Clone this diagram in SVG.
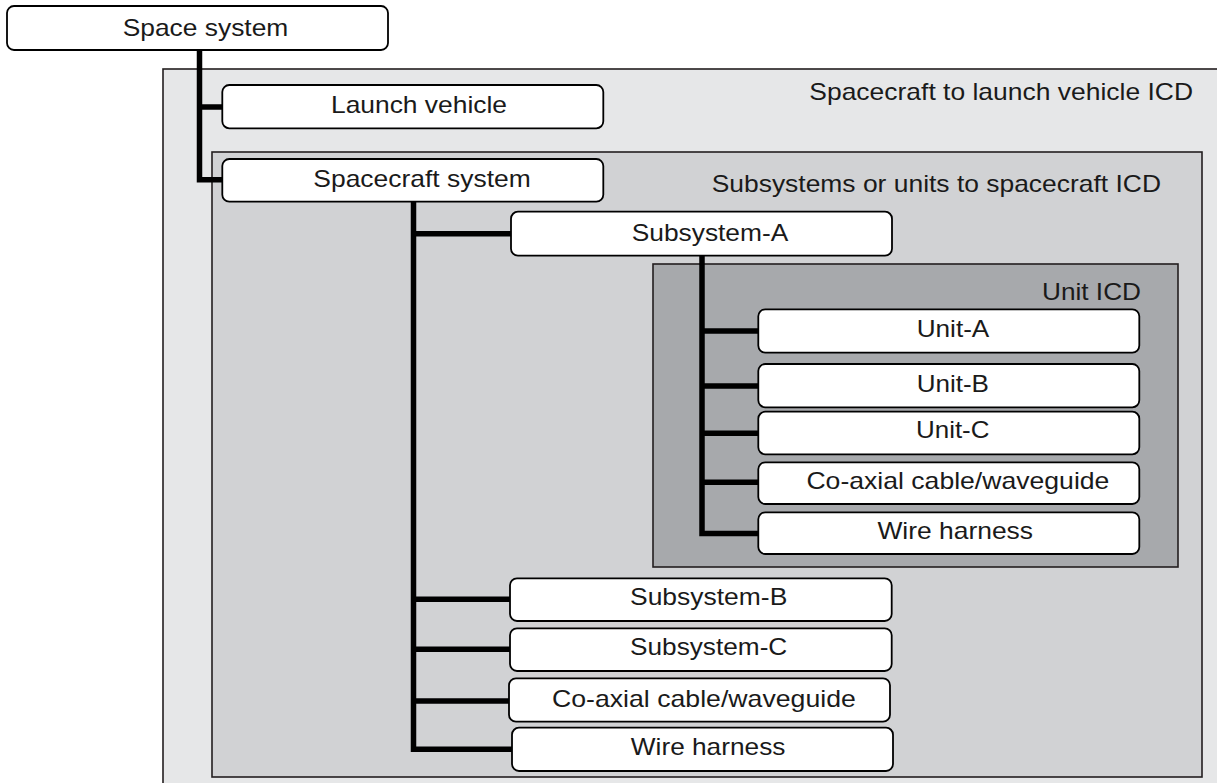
<svg xmlns="http://www.w3.org/2000/svg" width="1217" height="783" viewBox="0 0 1217 783">
<style>
.frame{stroke:#231f20;stroke-width:1.6}
.box{fill:#fff;stroke:#000;stroke-width:1.8}
.lbl{font-family:"Liberation Sans",Arial,sans-serif;font-size:24px;fill:#1a1a1a}
.conn{fill:none;stroke:#000;stroke-width:5.5;stroke-linejoin:miter;stroke-linecap:butt}
</style>
<rect width="1217" height="783" fill="#fff"/>
<g id="frame-sc-lv">
<rect class="frame" x="163" y="69" width="1080" height="740" fill="#e6e7e8"/>
<text class="lbl" x="809.3" y="100" textLength="383.7" lengthAdjust="spacingAndGlyphs">Spacecraft to launch vehicle ICD</text>
</g>
<g id="frame-sub">
<rect class="frame" x="212" y="152" width="990" height="625" fill="#d1d2d4"/>
<text class="lbl" x="711.7" y="191.5" textLength="449.3" lengthAdjust="spacingAndGlyphs">Subsystems or units to spacecraft ICD</text>
</g>
<g id="frame-unit">
<rect class="frame" x="653" y="264" width="525" height="303" fill="#a7a9ac"/>
<text class="lbl" x="1042" y="300" textLength="99" lengthAdjust="spacingAndGlyphs">Unit ICD</text>
</g>
<g id="connectors">
<path class="conn" d="M199.5,50 V179.7 H222.3 M199.5,107 H222.3"/>
<path class="conn" d="M413.5,201.7 V749.3 H512 M413.5,233.7 H511 M413.5,599.3 H510 M413.5,649.3 H510 M413.5,701 H509"/>
<path class="conn" d="M702,255.7 V533.5 H758.3 M702,331 H758.3 M702,386 H758.3 M702,433.3 H758.3 M702,482.3 H758.3"/>
</g>
<g id="space-system">
<rect class="box" x="7" y="6" width="381" height="44" rx="7"/>
<text class="lbl" x="122.7" y="36" textLength="165.6" lengthAdjust="spacingAndGlyphs">Space system</text>
</g>
<g id="launch-vehicle">
<rect class="box" x="222.3" y="85" width="381" height="43.3" rx="7"/>
<text class="lbl" x="331" y="113.3" textLength="176" lengthAdjust="spacingAndGlyphs">Launch vehicle</text>
</g>
<g id="spacecraft-system">
<rect class="box" x="222.3" y="159" width="381" height="42.7" rx="7"/>
<text class="lbl" x="313.3" y="186.7" textLength="217.4" lengthAdjust="spacingAndGlyphs">Spacecraft system</text>
</g>
<g id="subsystem-a">
<rect class="box" x="511" y="211.7" width="381" height="44" rx="7"/>
<text class="lbl" x="631.7" y="240.7" textLength="156.6" lengthAdjust="spacingAndGlyphs">Subsystem-A</text>
</g>
<g id="unit-a">
<rect class="box" x="758.3" y="309.3" width="381" height="43.3" rx="7"/>
<text class="lbl" x="916.7" y="337.3" textLength="72.6" lengthAdjust="spacingAndGlyphs">Unit-A</text>
</g>
<g id="unit-b">
<rect class="box" x="758.3" y="364" width="381" height="43.3" rx="7"/>
<text class="lbl" x="916.7" y="391.7" textLength="72.3" lengthAdjust="spacingAndGlyphs">Unit-B</text>
</g>
<g id="unit-c">
<rect class="box" x="758.3" y="411.7" width="381" height="42.6" rx="7"/>
<text class="lbl" x="916" y="438.3" textLength="73.5" lengthAdjust="spacingAndGlyphs">Unit-C</text>
</g>
<g id="unit-coax">
<rect class="box" x="758.3" y="462.3" width="381" height="41.7" rx="7"/>
<text class="lbl" x="806.4" y="489.3" textLength="303" lengthAdjust="spacingAndGlyphs">Co-axial cable/waveguide</text>
</g>
<g id="unit-wire">
<rect class="box" x="758.3" y="512.3" width="381" height="41.7" rx="7"/>
<text class="lbl" x="877.4" y="539" textLength="155.6" lengthAdjust="spacingAndGlyphs">Wire harness</text>
</g>
<g id="subsystem-b">
<rect class="box" x="510" y="578.3" width="381.7" height="42.7" rx="7"/>
<text class="lbl" x="630" y="605" textLength="157.3" lengthAdjust="spacingAndGlyphs">Subsystem-B</text>
</g>
<g id="subsystem-c">
<rect class="box" x="510" y="628.3" width="381.7" height="42.7" rx="7"/>
<text class="lbl" x="630" y="655" textLength="157.3" lengthAdjust="spacingAndGlyphs">Subsystem-C</text>
</g>
<g id="sub-coax">
<rect class="box" x="509" y="678.3" width="381" height="43.4" rx="7"/>
<text class="lbl" x="552" y="707.3" textLength="303.8" lengthAdjust="spacingAndGlyphs">Co-axial cable/waveguide</text>
</g>
<g id="sub-wire">
<rect class="box" x="512" y="727.7" width="381" height="43.3" rx="7"/>
<text class="lbl" x="630.8" y="755" textLength="154.6" lengthAdjust="spacingAndGlyphs">Wire harness</text>
</g>
</svg>
